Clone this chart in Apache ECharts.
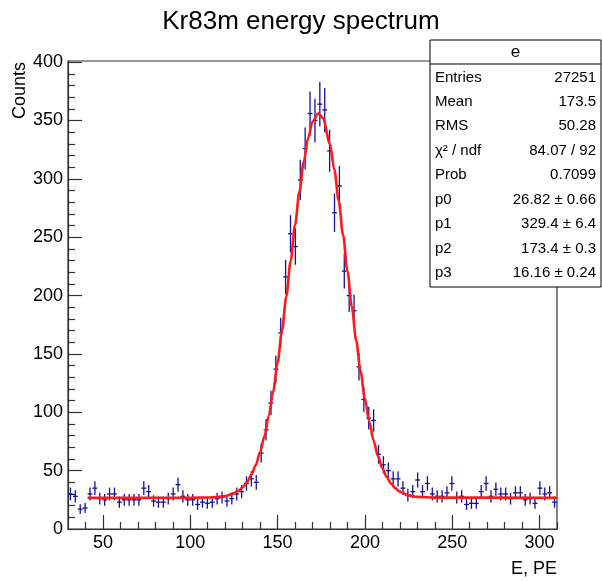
<!DOCTYPE html>
<html>
<head>
<meta charset="utf-8">
<script src="https://cdn.jsdelivr.net/npm/echarts@6/dist/echarts.min.js"></script>
<style>
html,body{margin:0;padding:0;background:#fff;}
#chart{width:602px;height:581px;}
</style>
</head>
<body>
<div id="chart"></div>
<script>
// ---- Data ----
const titleText = 'Kr83m energy spectrum';
const xTitle = 'E, PE';
const yTitle = 'Counts';
const binLow = 30;
const binWidth = 2.8;
const counts = [
  30, 28, 17, 18, 30, 35, 26, 25, 30, 30,
  23, 25, 25, 25, 25, 35, 32, 24, 23, 23,
  26, 30, 38, 28, 25, 25, 21, 23, 22, 23,
  26, 27, 24, 26, 30, 32, 39, 43, 40, 65,
  85, 108, 137, 168, 216, 253, 242, 299, 326, 356,
  350, 364, 359, 324, 271, 294, 221, 200, 187, 139,
  111, 95, 93, 64, 55, 50, 43, 43, 35, 29,
  32, 42, 32, 39, 30, 28, 28, 31, 39, 27,
  28, 21, 22, 22, 32, 39, 28, 34, 30, 30,
  26, 31, 31, 25, 26, 22, 35, 30, 31, 23
];
const fitX = [41.2, 100, 110, 115, 120, 125, 127.5, 130, 132.5, 135, 137.5, 140, 142.5, 145, 147.5, 150, 152.5, 155, 157.5, 160, 162.5, 165, 167.5, 170, 173.4, 176, 180, 182.5, 185, 187.5, 190, 192.5, 195, 197.5, 200, 202.5, 205, 207.5, 210, 212.5, 215, 217.5, 220, 225, 230, 240, 310];
const fitY = [26.8, 26.8, 27.0, 27.3, 28.2, 30.5, 32.7, 35.8, 40.2, 46.4, 54.8, 65.7, 79.7, 97.1, 118.0, 142.3, 169.6, 199.1, 229.8, 260.4, 289.2, 314.6, 335.0, 349.0, 356.2, 352.0, 329.9, 307.9, 281.4, 252.0, 221.2, 190.6, 161.6, 135.1, 111.8, 91.9, 75.5, 62.4, 52.1, 44.5, 38.8, 34.8, 32.0, 28.8, 27.5, 26.9, 26.8];
const xMajorTicks = [50, 100, 150, 200, 250, 300];
const xMinorTicks = [40, 60, 70, 80, 90, 110, 120, 130, 140, 160, 170, 180, 190, 210, 220, 230, 240, 260, 270, 280, 290, 310];
const yMajorTicks = [0, 50, 100, 150, 200, 250, 300, 350, 400];
const yMinorTicks = [10, 20, 30, 40, 60, 70, 80, 90, 110, 120, 130, 140, 160, 170, 180, 190, 210, 220, 230, 240, 260, 270, 280, 290, 310, 320, 330, 340, 360, 370, 380, 390];
const statsTitle = 'e';
const statsNames = ['Entries', 'Mean', 'RMS', 'χ² / ndf', 'Prob', 'p0', 'p1', 'p2', 'p3'];
const statsValues = ['27251', '173.5', '50.28', '84.07 / 92', '0.7099', '26.82 ± 0.66', '329.4 ± 6.4', '173.4 ± 0.3', '16.16 ± 0.24'];

// ---- Chart ----
const FONT = '"Liberation Sans", Arial, Helvetica, sans-serif';
const histColor = '#12129a';
const chart = echarts.init(document.getElementById('chart'), null, {renderer: 'canvas'});

const histData = counts.map((c, i) => [binLow + (i + 0.5) * binWidth, c, Math.sqrt(c)]);
const fitData = fitX.map((x, i) => [x, fitY[i]]);

const statsTop = 40, statsLeft = 430, statsW = 171, statsH = 247;
const rowY = [77.5, 101.5, 126, 150.5, 175, 199.5, 224, 248.5, 273];
const graphics = [
  {type: 'rect', z: 100, shape: {x: statsLeft, y: statsTop, width: statsW, height: statsH},
   style: {fill: '#fff', stroke: '#000', lineWidth: 1}},
  {type: 'line', z: 101, shape: {x1: statsLeft, y1: 64, x2: statsLeft + statsW, y2: 64},
   style: {stroke: '#000', lineWidth: 1}},
  {type: 'text', z: 101, x: statsLeft + statsW / 2, y: 52,
   style: {text: statsTitle, fontSize: 17, fontFamily: FONT, fill: '#000', align: 'center', verticalAlign: 'middle'}},
  {type: 'text', z: 10, x: 20, y: 62, rotation: Math.PI / 2,
   style: {text: yTitle, fontSize: 18, fontFamily: FONT, fill: '#000', align: 'right', verticalAlign: 'middle'}},
  {type: 'text', z: 10, x: 557, y: 569,
   style: {text: xTitle, fontSize: 18, fontFamily: FONT, fill: '#000', align: 'right', verticalAlign: 'middle'}}
];
statsNames.forEach((n, i) => {
  graphics.push({type: 'text', z: 101, x: statsLeft + 5, y: rowY[i],
    style: {text: n, fontSize: 15, fontFamily: FONT, fill: '#000', align: 'left', verticalAlign: 'middle'}});
  graphics.push({type: 'text', z: 101, x: statsLeft + statsW - 5, y: rowY[i],
    style: {text: statsValues[i], fontSize: 15, fontFamily: FONT, fill: '#000', align: 'right', verticalAlign: 'middle'}});
});

const axisCol = '#333';
const option = {
  animation: false,
  backgroundColor: '#fff',
  title: {
    text: titleText, left: 'center', top: 4,
    textStyle: {fontSize: 26, fontWeight: 'normal', fontFamily: FONT, color: '#000'}
  },
  grid: {left: 68, right: 45, top: 61, bottom: 52, show: true, borderColor: axisCol, borderWidth: 1.2, backgroundColor: 'transparent'},
  xAxis: [
    {type: 'value', min: 30, max: 310, position: 'bottom',
     axisLine: {show: true, lineStyle: {color: axisCol, width: 1.2}},
     axisTick: {show: true, inside: true, length: 14, customValues: xMajorTicks, lineStyle: {color: axisCol, width: 1.2}},
     axisLabel: {show: true, customValues: xMajorTicks, fontSize: 18, fontFamily: FONT, color: '#000', margin: 5},
     splitLine: {show: false}},
    {type: 'value', min: 30, max: 310, position: 'bottom',
     axisLine: {show: false},
     axisTick: {show: true, inside: true, length: 7, customValues: xMinorTicks, lineStyle: {color: axisCol, width: 1.2}},
     axisLabel: {show: false},
     splitLine: {show: false}}
  ],
  yAxis: [
    {type: 'value', min: 0, max: 401, position: 'left',
     axisLine: {show: true, lineStyle: {color: axisCol, width: 1.2}},
     axisTick: {show: true, inside: true, length: 14, customValues: yMajorTicks, lineStyle: {color: axisCol, width: 1.2}},
     axisLabel: {show: true, customValues: yMajorTicks, fontSize: 18, fontFamily: FONT, color: '#000', margin: 5},
     splitLine: {show: false}},
    {type: 'value', min: 0, max: 401, position: 'left',
     axisLine: {show: false},
     axisTick: {show: true, inside: true, length: 7, customValues: yMinorTicks, lineStyle: {color: axisCol, width: 1.2}},
     axisLabel: {show: false},
     splitLine: {show: false}}
  ],
  series: [
    {
      type: 'custom', xAxisIndex: 0, yAxisIndex: 0, z: 2,
      data: histData,
      renderItem: function (params, api) {
        const xc = api.value(0), y = api.value(1), e = api.value(2);
        const pL = api.coord([xc - binWidth / 2, y]);
        const pR = api.coord([xc + binWidth / 2, y]);
        const pT = api.coord([xc, y + e]);
        const pB = api.coord([xc, y - e]);
        const st = {stroke: histColor, lineWidth: 1.3};
        return {type: 'group', children: [
          {type: 'line', shape: {x1: pL[0], y1: pL[1], x2: pR[0], y2: pR[1]}, style: st},
          {type: 'line', shape: {x1: pT[0], y1: pT[1], x2: pB[0], y2: pB[1]}, style: st}
        ]};
      }
    },
    {
      type: 'line', xAxisIndex: 0, yAxisIndex: 0, z: 3,
      data: fitData, showSymbol: false, smooth: 0.3, smoothMonotone: 'x',
      lineStyle: {color: '#ff1a1a', width: 2.6}
    }
  ],
  graphic: graphics
};
chart.setOption(option);
</script>
</body>
</html>
